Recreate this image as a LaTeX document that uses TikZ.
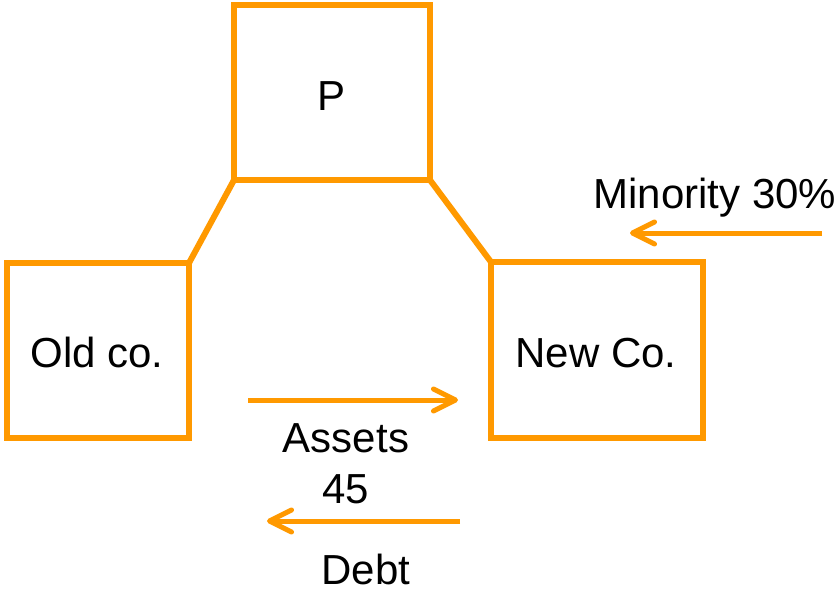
\documentclass[tikz,border=0pt]{standalone}
\usepackage{fontspec}
\setmainfont{Liberation Sans}
\usetikzlibrary{arrows.meta}
\definecolor{org}{HTML}{FF9900}
\begin{document}
\begin{tikzpicture}[x=1pt,y=-1pt,
  box/.style={draw=org,line width=6pt,outer sep=0pt,inner sep=0pt},
  lbl/.style={font=\fontsize{42}{48}\selectfont,anchor=base,inner sep=0pt},
  arr/.style={draw=org,line width=5pt,-{Straight Barb[length=22pt,width=22pt,round]}},
  link/.style={draw=org,line width=6pt}]
\useasboundingbox (0,0) rectangle (839,589);
\node[box,minimum width=196pt,minimum height=175pt] (P) at (332,92.5) {};
\node[box,minimum width=182pt,minimum height=175pt] (old) at (98,350.5) {};
\node[box,minimum width=212pt,minimum height=176pt] (new) at (597,350) {};
\node[lbl] (tP) at (332,110) {P};
\node[lbl] (told) at (97,367) {Old co.};
\node[lbl] (tnew) at (596,367) {New Co.};
\node[lbl] (tmin) at (715,208) {Minority 30\%};
\node[lbl] (tas) at (346,452) {Assets};
\node[lbl] (t45) at (346,503) {45};
\node[lbl,text depth=0pt] (tdebt) at (366,584) {Debt};
\draw[link] (P.south west) -- (old.north east);
\draw[link] (P.south east) -- (new.north west);
\coordinate (m1) at (822,233);
\coordinate (m2) at (630,233);
\coordinate (a1) at (248,400);
\coordinate (a2) at (458,400);
\coordinate (d1) at (460,521);
\coordinate (d2) at (267,521);
\draw[arr] (m1) -- (m2);
\draw[arr] (a1) -- (a2);
\draw[arr] (d1) -- (d2);
\end{tikzpicture}
\end{document}
